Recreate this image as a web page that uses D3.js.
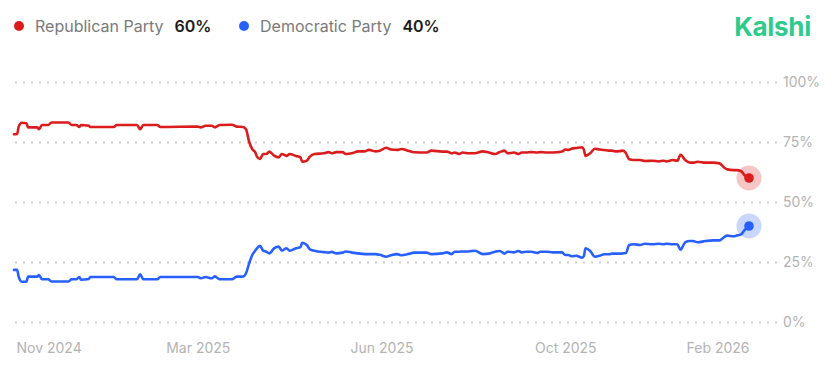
<!DOCTYPE html>
<html>
<head>
<meta charset="utf-8">
<script src="https://cdn.jsdelivr.net/npm/d3@7"></script>
<style>
  html, body { margin: 0; padding: 0; background: #fff; }
  svg { display: block; font-family: Inter, "Noto Sans", sans-serif; }
</style>
</head>
<body>
<svg id="chart" width="837" height="367"></svg>
<script>
// ---- data ----
const startDate = "2024-11-05";
const endDate = "2026-02-20";
const seriesNames = ["Republican Party", "Democratic Party"];
const lastValues = ["60%", "40%"];
const colors = ["#da1c1c", "#2760ff"];
const dayOffsets = [0,2,3,5,8,9,15,16,18,22,24,35,37,40,42,43,48,49,64,66,79,81,83,92,94,118,120,123,127,129,132,140,143,147,149,151,153,155,156,158,160,162,164,167,170,172,175,177,181,184,185,188,190,193,199,202,204,207,211,213,217,221,225,228,232,235,239,242,246,249,253,257,265,268,275,278,281,283,286,288,292,296,301,305,309,312,315,317,321,324,326,329,332,336,338,342,346,352,354,356,358,361,365,366,367,370,373,376,379,382,384,386,389,391,393,395,398,402,405,410,414,417,419,423,426,428,431,434,436,439,444,449,453,456,458,462,464,467,469,472];
const republican = [78.2,78.3,81.4,83,82.8,81.1,81.1,80.3,82.1,82.1,83.1,83.1,82.1,82.1,81.25,82.1,81.8,81.25,81.25,82.1,82.1,80.3,82.1,82.1,81.25,81.4,81.1,81.8,81.8,81.1,82.1,82.2,81.4,81.25,80.3,75.1,72,70.6,68.9,67.9,70,70,71,69.3,68.6,70,69.2,70,69.2,68.6,66.8,67.2,68.9,70,70.3,70.8,70.3,70.8,70.8,70,70.3,71.1,71.1,71.7,71.1,71.4,72.6,71.9,71.7,72.1,71.4,70.7,70.6,71.4,71,71,70.3,70.6,70,70.6,70.3,70.3,71.1,70.6,70,70.8,71.4,70.3,70.6,70,70.6,70.6,70.8,70.6,70.8,70.6,70.6,71,71.9,71.7,72.2,72.5,72.8,71.7,69.2,70.3,72.2,71.9,71.7,71.4,71.4,71.1,71.2,71.4,70.3,67.8,67.5,67.5,67.1,67.2,66.9,67.2,66.9,67.5,67.2,69.7,67.5,66.4,66.4,66.8,66.4,66.4,66.1,64.4,63.6,63.3,63.3,62.8,61.25,60];
const democratic = [21.7,21.7,18.9,16.8,16.8,18.9,18.9,19.6,17.8,17.8,16.9,16.9,17.8,17.8,18.75,17.6,17.9,18.75,18.75,17.8,17.8,19.9,17.8,17.8,18.75,18.75,18.2,18.75,18.2,19,17.8,17.8,18.9,18.9,20.3,24.4,27.9,29.8,30.7,31.7,29.7,29.3,28.6,30.7,31.4,29.7,30.7,29.7,30.7,31.2,33,32.1,30.3,29.7,29.1,28.9,29.2,28.6,28.9,29.4,28.9,28.6,28.3,28.3,28.3,28,27.2,27.8,28.3,27.8,28.3,28.9,28.9,28.3,28.6,29,28.3,29.3,29.3,29.4,29.4,29.7,28.3,28.5,29.3,29.6,28.5,29.3,29,29.6,29,29.3,29.3,28.75,29.3,29.3,29,29,27.9,27.9,27.4,27.6,26.8,27.6,30.7,29.6,27.2,27.6,28.2,28.2,28.5,28.5,28.5,28.6,28.75,32.1,32.4,32.1,32.6,32.4,32.6,32.4,32.6,32.4,32.4,30.1,33.2,33.75,33.75,33.2,33.75,34,34,35.4,36,35.7,36,36.5,38.2,40];
const yTicks = [0, 25, 50, 75, 100];
const yTickLabels = ["0%", "25%", "50%", "75%", "100%"];
const xTickLabels = ["Nov 2024", "Mar 2025", "Jun 2025", "Oct 2025", "Feb 2026"];

// ---- chart ----
const svg = d3.select("#chart");
const parse = d3.utcParse("%Y-%m-%d");
const t0 = parse(startDate), t1 = parse(endDate);
const dates = dayOffsets.map(d => d3.utcDay.offset(t0, d));

const x = d3.scaleUtc().domain([t0, t1]).range([14, 749]);
const y = d3.scaleLinear().domain([0, 100]).range([322, 82]);

// grid + y labels
const yAxis = d3.axisRight(y)
  .tickValues(yTicks)
  .tickSize(-763)
  .tickPadding(6)
  .tickFormat((d, i) => yTickLabels[i]);
const gy = svg.append("g").attr("transform", "translate(777,0)").call(yAxis);
gy.select(".domain").remove();
gy.selectAll(".tick line")
  .attr("stroke", "#cfcfcf")
  .attr("stroke-width", 2)
  .attr("stroke-dasharray", "2 6");
gy.selectAll(".tick text")
  .attr("fill", "#b3b3b3")
  .style("font-size", "14px")
  .style("font-family", "Inter, sans-serif");

// x labels
const xTickDates = d3.range(5).map(i => new Date(+t0 + i * (t1 - t0) / 4));
const xAxis = d3.axisBottom(x)
  .tickValues(xTickDates)
  .tickSize(0)
  .tickPadding(0)
  .tickFormat((d, i) => xTickLabels[i]);
const gx = svg.append("g").attr("transform", "translate(0,343)").call(xAxis);
gx.select(".domain").remove();
gx.selectAll(".tick text")
  .attr("fill", "#b3b3b3")
  .attr("dy", "0.71em")
  .style("font-size", "14px")
  .style("font-family", "Inter, sans-serif")
  .attr("text-anchor", (d, i) => i === 0 ? "start" : (i === 4 ? "end" : "middle"))
  .attr("dx", (d, i) => i === 0 ? 2 : 0);

// lines
const series = [republican, democratic];
const line = d3.line()
  .x((d, i) => x(dates[i]))
  .y(d => y(d))
  .curve(d3.curveMonotoneX);

series.forEach((vals, k) => {
  svg.append("path")
    .datum(vals)
    .attr("fill", "none")
    .attr("stroke", colors[k])
    .attr("stroke-width", 2.6)
    .attr("stroke-linejoin", "round")
    .attr("stroke-linecap", "round")
    .attr("d", line);
  const lx = x(dates[dates.length - 1]);
  const ly = y(vals[vals.length - 1]);
  svg.append("circle").attr("cx", lx).attr("cy", ly).attr("r", 12.5)
    .attr("fill", colors[k]).attr("fill-opacity", 0.25);
  svg.append("circle").attr("cx", lx).attr("cy", ly).attr("r", 4.8)
    .attr("fill", colors[k]);
});

// legend
const legendX = [19, 244];
const legend = svg.append("g");
seriesNames.forEach((name, k) => {
  const g = legend.append("g").attr("transform", `translate(${legendX[k]},26)`);
  g.append("circle").attr("r", 5).attr("fill", colors[k]);
  const t = g.append("text").attr("x", 16).attr("y", 6)
    .attr("fill", "#7a7a7a")
    .style("font-size", "16px")
    .text(name);
  const w = t.node().getComputedTextLength();
  g.append("text").attr("x", 16 + w + 11).attr("y", 6)
    .attr("fill", "#1a1a1a")
    .style("font-size", "16px")
    .style("font-weight", 600)
    .text(lastValues[k]);
});

// brand
svg.append("text")
  .attr("x", 811).attr("y", 36)
  .attr("text-anchor", "end")
  .attr("fill", "#2fcb8d")
  .style("font-size", "26px")
  .style("font-weight", 700)
  .style("letter-spacing", "-0.3px")
  .text("Kalshi");
</script>
</body>
</html>
